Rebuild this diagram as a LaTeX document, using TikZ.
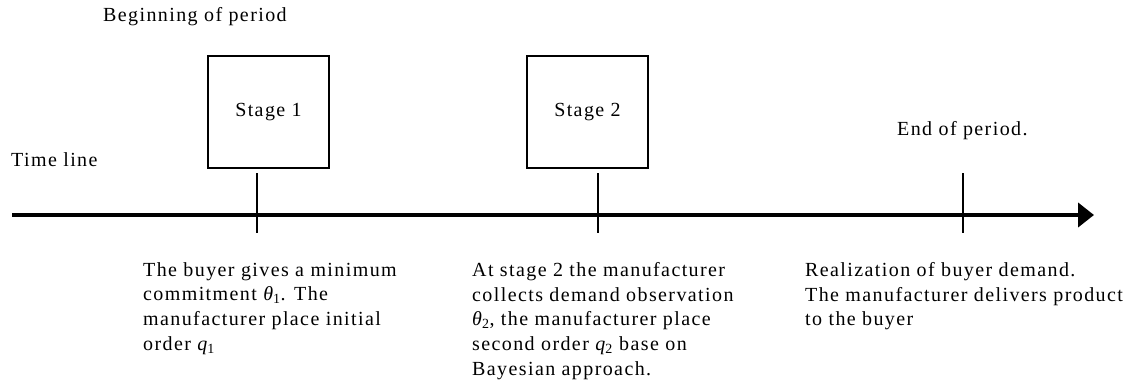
\documentclass[tikz,border=0pt]{standalone}
\usepackage{fontspec}
\setmainfont[LetterSpace=7]{Liberation Serif}
\usetikzlibrary{arrows.meta}
\newcommand{\thsub}[1]{{\itshape θ}\textsubscript{#1}}
\newcommand{\qsub}[1]{{\itshape q}\textsubscript{#1}}
\begin{document}
\begin{tikzpicture}[x=1pt,y=-1pt,
  txt/.style={inner sep=0pt,font=\fontsize{20}{24.75}\selectfont},
  block/.style={txt,align=left,anchor=north west},
  stagebox/.style={draw,line width=2pt,minimum width=121pt,minimum height=112pt,inner sep=0pt,font=\fontsize{20}{24.75}\selectfont},
  tick/.style={line width=2pt},
  timeline/.style={line width=4pt,-{Triangle[length=16pt,width=24pt]}}]
\useasboundingbox (0,0) rectangle (1136,383);
% labels
\node[txt,anchor=west] (begin) at (103,17) {Beginning of period};
\node[txt,anchor=west] (tl) at (11,160) {Time line};
\node[txt,anchor=west] (end) at (897,131) {End of period.};
% stage boxes
\node[stagebox] (s1) at (268.5,112) {Stage 1};
\node[stagebox] (s2) at (587.5,112) {Stage 2};
% timeline
\coordinate (tstart) at (12,215);
\coordinate (tend) at (1094,215);
\draw[timeline] (tstart) -- (tend);
% ticks
\coordinate (t1a) at (257,173); \coordinate (t1b) at (257,233);
\coordinate (t2a) at (598,173); \coordinate (t2b) at (598,233);
\coordinate (t3a) at (963,173); \coordinate (t3b) at (963,233);
\draw[tick] (t1a) -- (t1b);
\draw[tick] (t2a) -- (t2b);
\draw[tick] (t3a) -- (t3b);
% descriptions
\node[block] (d1) at (143,262) {The buyer gives a minimum\\commitment \thsub{1}. The\\manufacturer place initial\\order \qsub{1}};
\node[block] (d2) at (472,262) {At stage 2 the manufacturer\\collects demand observation\\\thsub{2}, the manufacturer place\\second order \qsub{2} base on\\Bayesian approach.};
\node[block] (d3) at (805,262) {Realization of buyer demand.\\The manufacturer delivers product\\to the buyer};
\end{tikzpicture}
\end{document}
